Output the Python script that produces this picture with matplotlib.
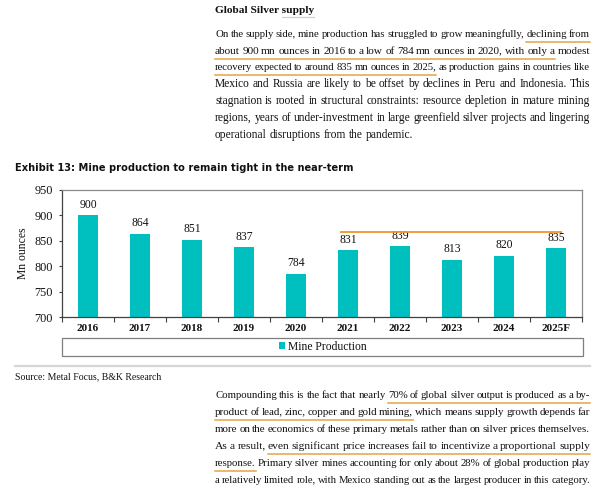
import numpy as np
import matplotlib
matplotlib.use("Agg")
import matplotlib.pyplot as plt
from matplotlib.lines import Line2D
from matplotlib.patches import Rectangle, Patch

# ---------------- data ----------------
years = ["2016", "2017", "2018", "2019", "2020", "2021", "2022", "2023", "2024", "2025F"]
mine_production = [900, 864, 851, 837, 784, 831, 839, 813, 820, 835]
y_ticks = [700, 750, 800, 850, 900, 950]
bracket_level = 867          # orange highlight line over 2021-2025F
bracket_span = (4.84, 9.11)  # category-index span of the highlight line

heading = "Global Silver supply"
para1 = [
    "On the supply side, mine production has struggled to grow meaningfully, declining from",
    "about 900 mn ounces in 2016 to a low of 784 mn ounces in 2020, with only a modest",
    "recovery expected to around 835 mn ounces in 2025, as production gains in countries like",
    "Mexico and Russia are likely to be offset by declines in Peru and Indonesia. This",
    "stagnation is rooted in structural constraints: resource depletion in mature mining",
    "regions, years of under-investment in large greenfield silver projects and lingering",
    "operational disruptions from the pandemic.",
]
para1_underlines = [(0, 11, 12), (1, 0, 17), (2, 0, 8)]
para2 = [
    "Compounding this is the fact that nearly 70% of global silver output is produced as a by-",
    "product of lead, zinc, copper and gold mining, which means supply growth depends far",
    "more on the economics of these primary metals rather than on silver prices themselves.",
    "As a result, even significant price increases fail to incentivize a proportional supply",
    "response. Primary silver mines accounting for only about 28% of global production play",
    "a relatively limited role, with Mexico standing out as the largest producer in this category.",
]
para2_underlines = [(0, 7, 16), (1, 0, 7), (3, 3, 12), (4, 0, 0)]
exhibit_title = "Exhibit 13: Mine production to remain tight in the near-term"
source_text = "Source: Metal Focus, B&K Research"
legend_label = "Mine Production"
y_label = "Mn ounces"

# ---------------- styling ----------------
W, H = 610, 500
SERIF = "Liberation Serif"
TXT = "#111111"
TEAL = "#00BFBF"
ORANGE = "#F0962A"
ULINE = "#E3A445"

fig = plt.figure(figsize=(6.1, 5.0), dpi=100)
fig.patch.set_facecolor("white")
r = fig.canvas.get_renderer()


def fx(x):
    return x / W


def fy(y):
    return 1 - y / H


def width_of(s, **kw):
    t = fig.text(0, 0, s, **kw)
    w = t.get_window_extent(renderer=r).width
    t.remove()
    return w


def fit_size(s, target, base=8.0, **kw):
    return base * target / width_of(s, fontsize=base, **kw)


X0, X1 = 215, 590
FS_BODY = 8.3
MIN_GAP = 0.85
DESC = set("gjpqy")


def word_shift(w):
    # a trailing comma (not hidden by a deeper descender) renders one pixel low
    if w.endswith(",") and not (set(w) & DESC):
        return -1.0
    return 0.0


def draw_paragraph(lines, baselines, underlines, justify_last):
    spans = {}
    for i, (line, yb) in enumerate(zip(lines, baselines)):
        yb = round(yb) + 0.25
        words = line.split()
        fs = FS_BODY
        sp = width_of("a a", fontsize=fs, family=SERIF) - 2 * width_of("a", fontsize=fs, family=SERIF)
        ws = [width_of(w, fontsize=fs, family=SERIF) for w in words]
        min_w = sum(ws) + (len(words) - 1) * MIN_GAP * sp
        if min_w > X1 - X0:
            fs = fs * (X1 - X0) / min_w
            ws = [width_of(w, fontsize=fs, family=SERIF) for w in words]
            sp = sp * fs / FS_BODY
        last = (i == len(lines) - 1) and not justify_last
        gap = sp if last or len(words) < 2 else (X1 - X0 - sum(ws)) / (len(words) - 1)
        x = X0
        pos = []
        for w, wd in zip(words, ws):
            fig.text(fx(x), fy(yb + word_shift(w)), w, ha="left", va="baseline", fontsize=fs,
                     family=SERIF, color=TXT)
            pos.append((x, x + wd))
            x += wd + gap
        spans[i] = (pos, yb)
    for (li, a, b) in underlines:
        pos, yb = spans[li]
        xa = pos[a][0]
        xb = pos[b][1]
        yu = yb + 4.5
        fig.add_artist(Line2D([fx(xa), fx(xb)], [fy(yu), fy(yu)], color=ULINE, lw=1.1))


# heading
fs_head = fit_size(heading, 99, family=SERIF, fontweight="bold")
fig.text(fx(X0), fy(13.25), heading, ha="left", va="baseline", fontsize=fs_head,
         family=SERIF, fontweight="bold", color=TXT)
w_pre = width_of("Global Silver s", fontsize=fs_head, family=SERIF, fontweight="bold") - \
    width_of("s", fontsize=fs_head, family=SERIF, fontweight="bold")
w_all = width_of(heading, fontsize=fs_head, family=SERIF, fontweight="bold")
fig.add_artist(Line2D([fx(X0 + w_pre), fx(X0 + w_all)], [fy(16.5)] * 2, color="#d0d0d0", lw=0.9))

draw_paragraph(para1, [36.7 + 16.8 * i for i in range(len(para1))], para1_underlines, False)
draw_paragraph(para2, [398 + 17 * i for i in range(len(para2))], para2_underlines, True)

# exhibit title
fs_title = fit_size(exhibit_title, 337, family="DejaVu Sans", fontweight="bold")
fig.text(fx(15), fy(171.25), exhibit_title, ha="left", va="baseline", fontsize=fs_title,
         family="DejaVu Sans", fontweight="bold", color="#111111")

# ---------------- chart ----------------
ax = fig.add_axes([fx(62), fy(317), (582 - 62) / W, (317 - 190) / H])
xpos = np.arange(len(years))
ax.bar(xpos, mine_production, width=0.4, color=TEAL, zorder=2)
ax.set_xlim(-0.5, len(years) - 0.5)
ax.set_ylim(y_ticks[0], y_ticks[-1])
ax.set_yticks(y_ticks)
ax.set_yticklabels([str(v) for v in y_ticks], family=SERIF, fontsize=8.8, color=TXT)
ax.set_xticks(np.arange(-0.5, len(years), 1.0))
ax.set_xticklabels([])
ax.set_xticks(xpos, minor=True)
ax.set_xticklabels(years, minor=True, family=SERIF, fontsize=8, fontweight="bold", color=TXT)
ax.tick_params(axis="x", which="major", length=3.5, direction="out", color="#404040", width=0.8)
ax.tick_params(axis="x", which="minor", length=0, pad=5)
ax.tick_params(axis="y", length=2.5, direction="out", pad=4, color="#404040", width=0.8)
for s in ["left", "bottom"]:
    ax.spines[s].set_color("#404040")
    ax.spines[s].set_linewidth(0.9)
for s in ["top", "right"]:
    ax.spines[s].set_color("#8a8a8a")
    ax.spines[s].set_linewidth(0.9)
ax.set_ylabel(y_label, family=SERIF, fontsize=8.4, color=TXT, labelpad=4)

for xi, v in zip(xpos, mine_production):
    ax.annotate(str(v), (xi, v), xytext=(0, 3.5), textcoords="offset points",
                ha="center", va="bottom", family=SERIF, fontsize=8.4, color=TXT)

ax.plot(list(bracket_span), [bracket_level, bracket_level], color=ORANGE, lw=1.3, zorder=3,
        solid_capstyle="butt")

# legend box
fig.add_artist(Rectangle((fx(62), fy(356)), (583 - 62) / W, (356 - 338) / H,
                         transform=fig.transFigure, fill=False, edgecolor="#7f7f7f", lw=0.9))
fig.legend(handles=[Patch(facecolor=TEAL, edgecolor="none", label=legend_label)],
           loc="center", bbox_to_anchor=(fx(323), fy(347)), frameon=False,
           prop={"family": SERIF, "size": 8.4}, handlelength=0.55, handleheight=0.55,
           handletextpad=0.25, borderpad=0, borderaxespad=0, labelcolor=TXT)

# rule and source
fig.add_artist(Line2D([fx(15), fx(590)], [fy(366)] * 2, color="#d6d6d6", lw=1.6))
fig.text(fx(15), fy(379.25), source_text, ha="left", va="baseline", fontsize=7,
         family=SERIF, color=TXT)

fig.savefig("out.png", dpi=100)
